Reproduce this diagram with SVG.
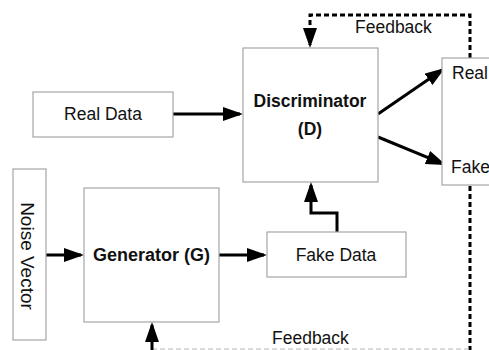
<svg xmlns="http://www.w3.org/2000/svg" width="489" height="350" viewBox="0 0 489 350">
  <style>
    .box { fill: #ffffff; stroke: #a6a6a6; stroke-width: 1.2; }
    .lbl { font-family: "Liberation Sans", Arial, sans-serif; font-size: 17.5px; fill: #111111; }
    .bold { font-weight: bold; }
    .mid { text-anchor: middle; }
    .flow { fill: none; stroke: #000000; stroke-width: 3; }
    .fb { fill: none; stroke: #000000; stroke-width: 3; stroke-dasharray: 5 3; }
    .fbl { fill: none; stroke: #b8b8b8; stroke-width: 1.2; stroke-dasharray: 5 3; }
  </style>
  <defs>
    <marker id="head" markerUnits="userSpaceOnUse" markerWidth="22" markerHeight="15" refX="17" refY="7" orient="auto">
      <path d="M0,0 L20,7 L0,14 Z" fill="#000000"/>
    </marker>
  </defs>

  <rect width="489" height="350" fill="#ffffff"/>

  <g id="connectors">
    <!-- data flow -->
    <line class="flow" x1="173" y1="114" x2="240" y2="114" marker-end="url(#head)"/>
    <line class="flow" x1="46" y1="255" x2="81" y2="255" marker-end="url(#head)"/>
    <line class="flow" x1="219" y1="255" x2="264" y2="255" marker-end="url(#head)"/>
    <polyline class="flow" points="337,232 337,213 311,213 311,185" marker-end="url(#head)"/>
    <line class="flow" x1="378" y1="114" x2="442.5" y2="69.7" marker-end="url(#head)"/>
    <line class="flow" x1="378" y1="137" x2="443.2" y2="163.9" marker-end="url(#head)"/>
    <!-- feedback loops -->
    <polyline class="fb" points="470,58 470,15 310,15 310,45" marker-end="url(#head)"/>
    <line class="fb" x1="470" y1="186" x2="470" y2="350"/>
    <line class="fbl" x1="152" y1="349" x2="470" y2="349"/>
    <line class="flow" x1="152" y1="350" x2="152" y2="325" marker-end="url(#head)"/>
    <text class="lbl" x="355" y="33">Feedback</text>
    <text class="lbl" x="272" y="344">Feedback</text>
  </g>

  <g id="real-data">
    <rect class="box" x="33" y="92" width="140" height="45"/>
    <text class="lbl mid" x="103" y="120">Real Data</text>
  </g>

  <g id="discriminator">
    <rect class="box" x="243" y="48" width="135" height="134"/>
    <text class="lbl bold mid" x="310" y="107">Discriminator</text>
    <text class="lbl bold mid" x="310" y="135">(D)</text>
  </g>

  <g id="output">
    <rect class="box" x="442" y="58" width="60" height="127"/>
    <text class="lbl" x="452" y="79">Real</text>
    <text class="lbl" x="451" y="173">Fake</text>
  </g>

  <g id="noise-vector">
    <rect class="box" x="13" y="169" width="33" height="171"/>
    <text class="lbl mid" transform="translate(27,256) rotate(90)" x="0" y="6" style="font-size:19px">Noise Vector</text>
  </g>

  <g id="generator">
    <rect class="box" x="84" y="188" width="135" height="134"/>
    <text class="lbl bold mid" x="151.5" y="261" style="font-size:18px">Generator (G)</text>
  </g>

  <g id="fake-data">
    <rect class="box" x="267" y="232" width="139" height="45"/>
    <text class="lbl mid" x="336" y="261">Fake Data</text>
  </g>
</svg>
